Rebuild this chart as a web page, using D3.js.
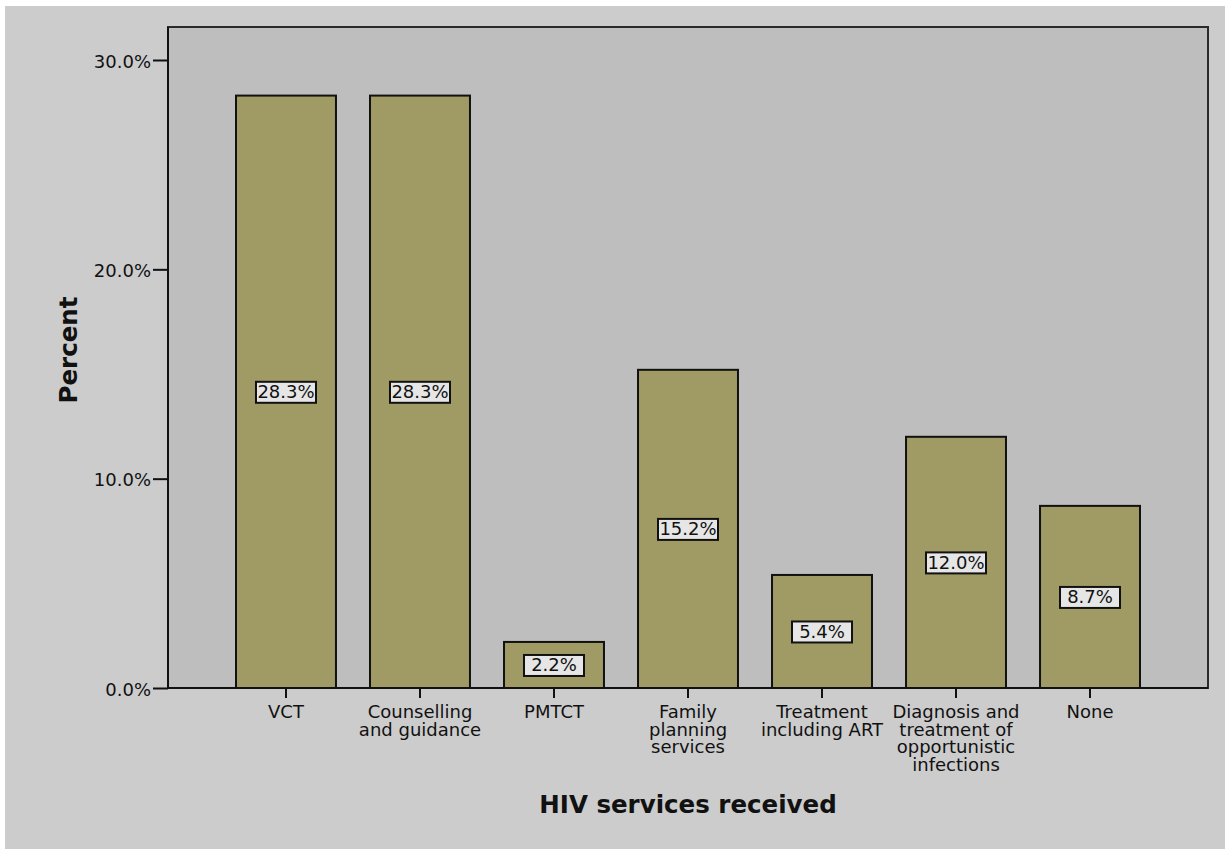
<!DOCTYPE html>
<html lang="en">
<head>
    <meta charset="UTF-8">
    <title>HIV services received</title>
    <script src="https://d3js.org/d3.v7.min.js"></script>
    <style>
        body { margin: 0; background: #ffffff; overflow: hidden; }
        text { font-family: "DejaVu Sans", Verdana, sans-serif; fill: #111; }
    </style>
</head>
<body>
    <div id="chart"></div>
    <script>
        // data
        const categories = ["VCT", "Counselling and guidance", "PMTCT", "Family planning services",
            "Treatment including ART", "Diagnosis and treatment of opportunistic infections", "None"];
        const tickLabels = [
            ["VCT"],
            ["Counselling", "and guidance"],
            ["PMTCT"],
            ["Family", "planning", "services"],
            ["Treatment", "including ART"],
            ["Diagnosis and", "treatment of", "opportunistic", "infections"],
            ["None"]
        ];
        const percents = [28.3, 28.3, 2.2, 15.2, 5.4, 12.0, 8.7];
        const yTicks = [0, 10, 20, 30];

        const width = 1225, height = 849;
        const plot = { left: 168, right: 1208, top: 27, bottom: 688 };

        const svg = d3.select("#chart").append("svg")
            .attr("width", width)
            .attr("height", height);

        // outer panel
        svg.append("rect")
            .attr("x", 5).attr("y", 6)
            .attr("width", width - 5).attr("height", height - 6)
            .attr("fill", "#cccccc");

        // plot area
        svg.append("rect")
            .attr("x", plot.left).attr("y", plot.top)
            .attr("width", plot.right - plot.left).attr("height", plot.bottom - plot.top)
            .attr("fill", "#bebebe")
            .attr("stroke", "#2a2a2a")
            .attr("stroke-width", 2);

        const x = d3.scaleBand()
            .domain(categories)
            .range([plot.left, plot.right])
            .paddingInner(0.254)
            .paddingOuter(0.5075);

        const y = d3.scaleLinear()
            .domain([0, 30])
            .range([plot.bottom, 60]);

        // bars
        svg.selectAll(".bar")
            .data(categories)
            .enter().append("rect")
            .attr("class", "bar")
            .attr("x", d => x(d))
            .attr("y", (d, i) => y(percents[i]))
            .attr("width", x.bandwidth())
            .attr("height", (d, i) => y(0) - y(percents[i]))
            .attr("fill", "#a09b64")
            .attr("stroke", "#111")
            .attr("stroke-width", 2);

        // value labels in boxes
        const labels = svg.selectAll(".val")
            .data(categories)
            .enter().append("g")
            .attr("class", "val")
            .attr("transform", (d, i) => `translate(${x(d) + x.bandwidth() / 2},${y(percents[i] / 2)})`);

        labels.append("rect")
            .attr("x", -30).attr("y", -10)
            .attr("width", 60).attr("height", 21)
            .attr("fill", "#e6e6e6")
            .attr("stroke", "#111")
            .attr("stroke-width", 2);

        labels.append("text")
            .attr("text-anchor", "middle")
            .attr("dy", "0.36em")
            .style("font-size", "18px")
            .text((d, i) => d3.format(".1f")(percents[i]) + "%");

        // y axis
        const yAxis = svg.append("g")
            .attr("transform", `translate(${plot.left},0)`)
            .call(d3.axisLeft(y).tickValues(yTicks).tickSize(15).tickPadding(2)
                .tickFormat(d => d3.format(".1f")(d) + "%"));
        yAxis.select(".domain").attr("stroke", "#111").attr("stroke-width", 2)
            .attr("d", `M0,${plot.top}V${plot.bottom}`);
        yAxis.selectAll(".tick line").attr("stroke", "#111").attr("stroke-width", 2);
        yAxis.selectAll(".tick text")
            .style("font-size", "18px")
            .style("font-family", "'DejaVu Sans', Verdana, sans-serif")
            .attr("fill", "#111")
            .attr("dy", "0.4em");

        // x axis
        const xAxis = svg.append("g")
            .attr("transform", `translate(0,${plot.bottom})`)
            .call(d3.axisBottom(x).tickSize(10).tickFormat(""));
        xAxis.select(".domain").attr("stroke", "#111").attr("stroke-width", 2)
            .attr("d", `M${plot.left},0H${plot.right}`);
        xAxis.selectAll(".tick line").attr("stroke", "#111").attr("stroke-width", 2);

        xAxis.selectAll(".tick").each(function(d, i) {
            const t = d3.select(this).append("text")
                .attr("text-anchor", "middle")
                .attr("y", 30)
                .style("font-size", "18px")
                .style("font-family", "'DejaVu Sans', Verdana, sans-serif")
                .attr("fill", "#111");
            tickLabels[i].forEach((line, j) => {
                t.append("tspan").attr("x", 0).attr("y", 30 + j * 17.7).text(line);
            });
        });

        // axis titles
        svg.append("text")
            .attr("x", (plot.left + plot.right) / 2)
            .attr("y", 813)
            .attr("text-anchor", "middle")
            .style("font-size", "24.5px")
            .style("font-weight", "bold")
            .text("HIV services received");

        svg.append("text")
            .attr("transform", "translate(77,350) rotate(-90)")
            .attr("text-anchor", "middle")
            .style("font-size", "24.5px")
            .style("font-weight", "bold")
            .text("Percent");
    </script>
</body>
</html>
